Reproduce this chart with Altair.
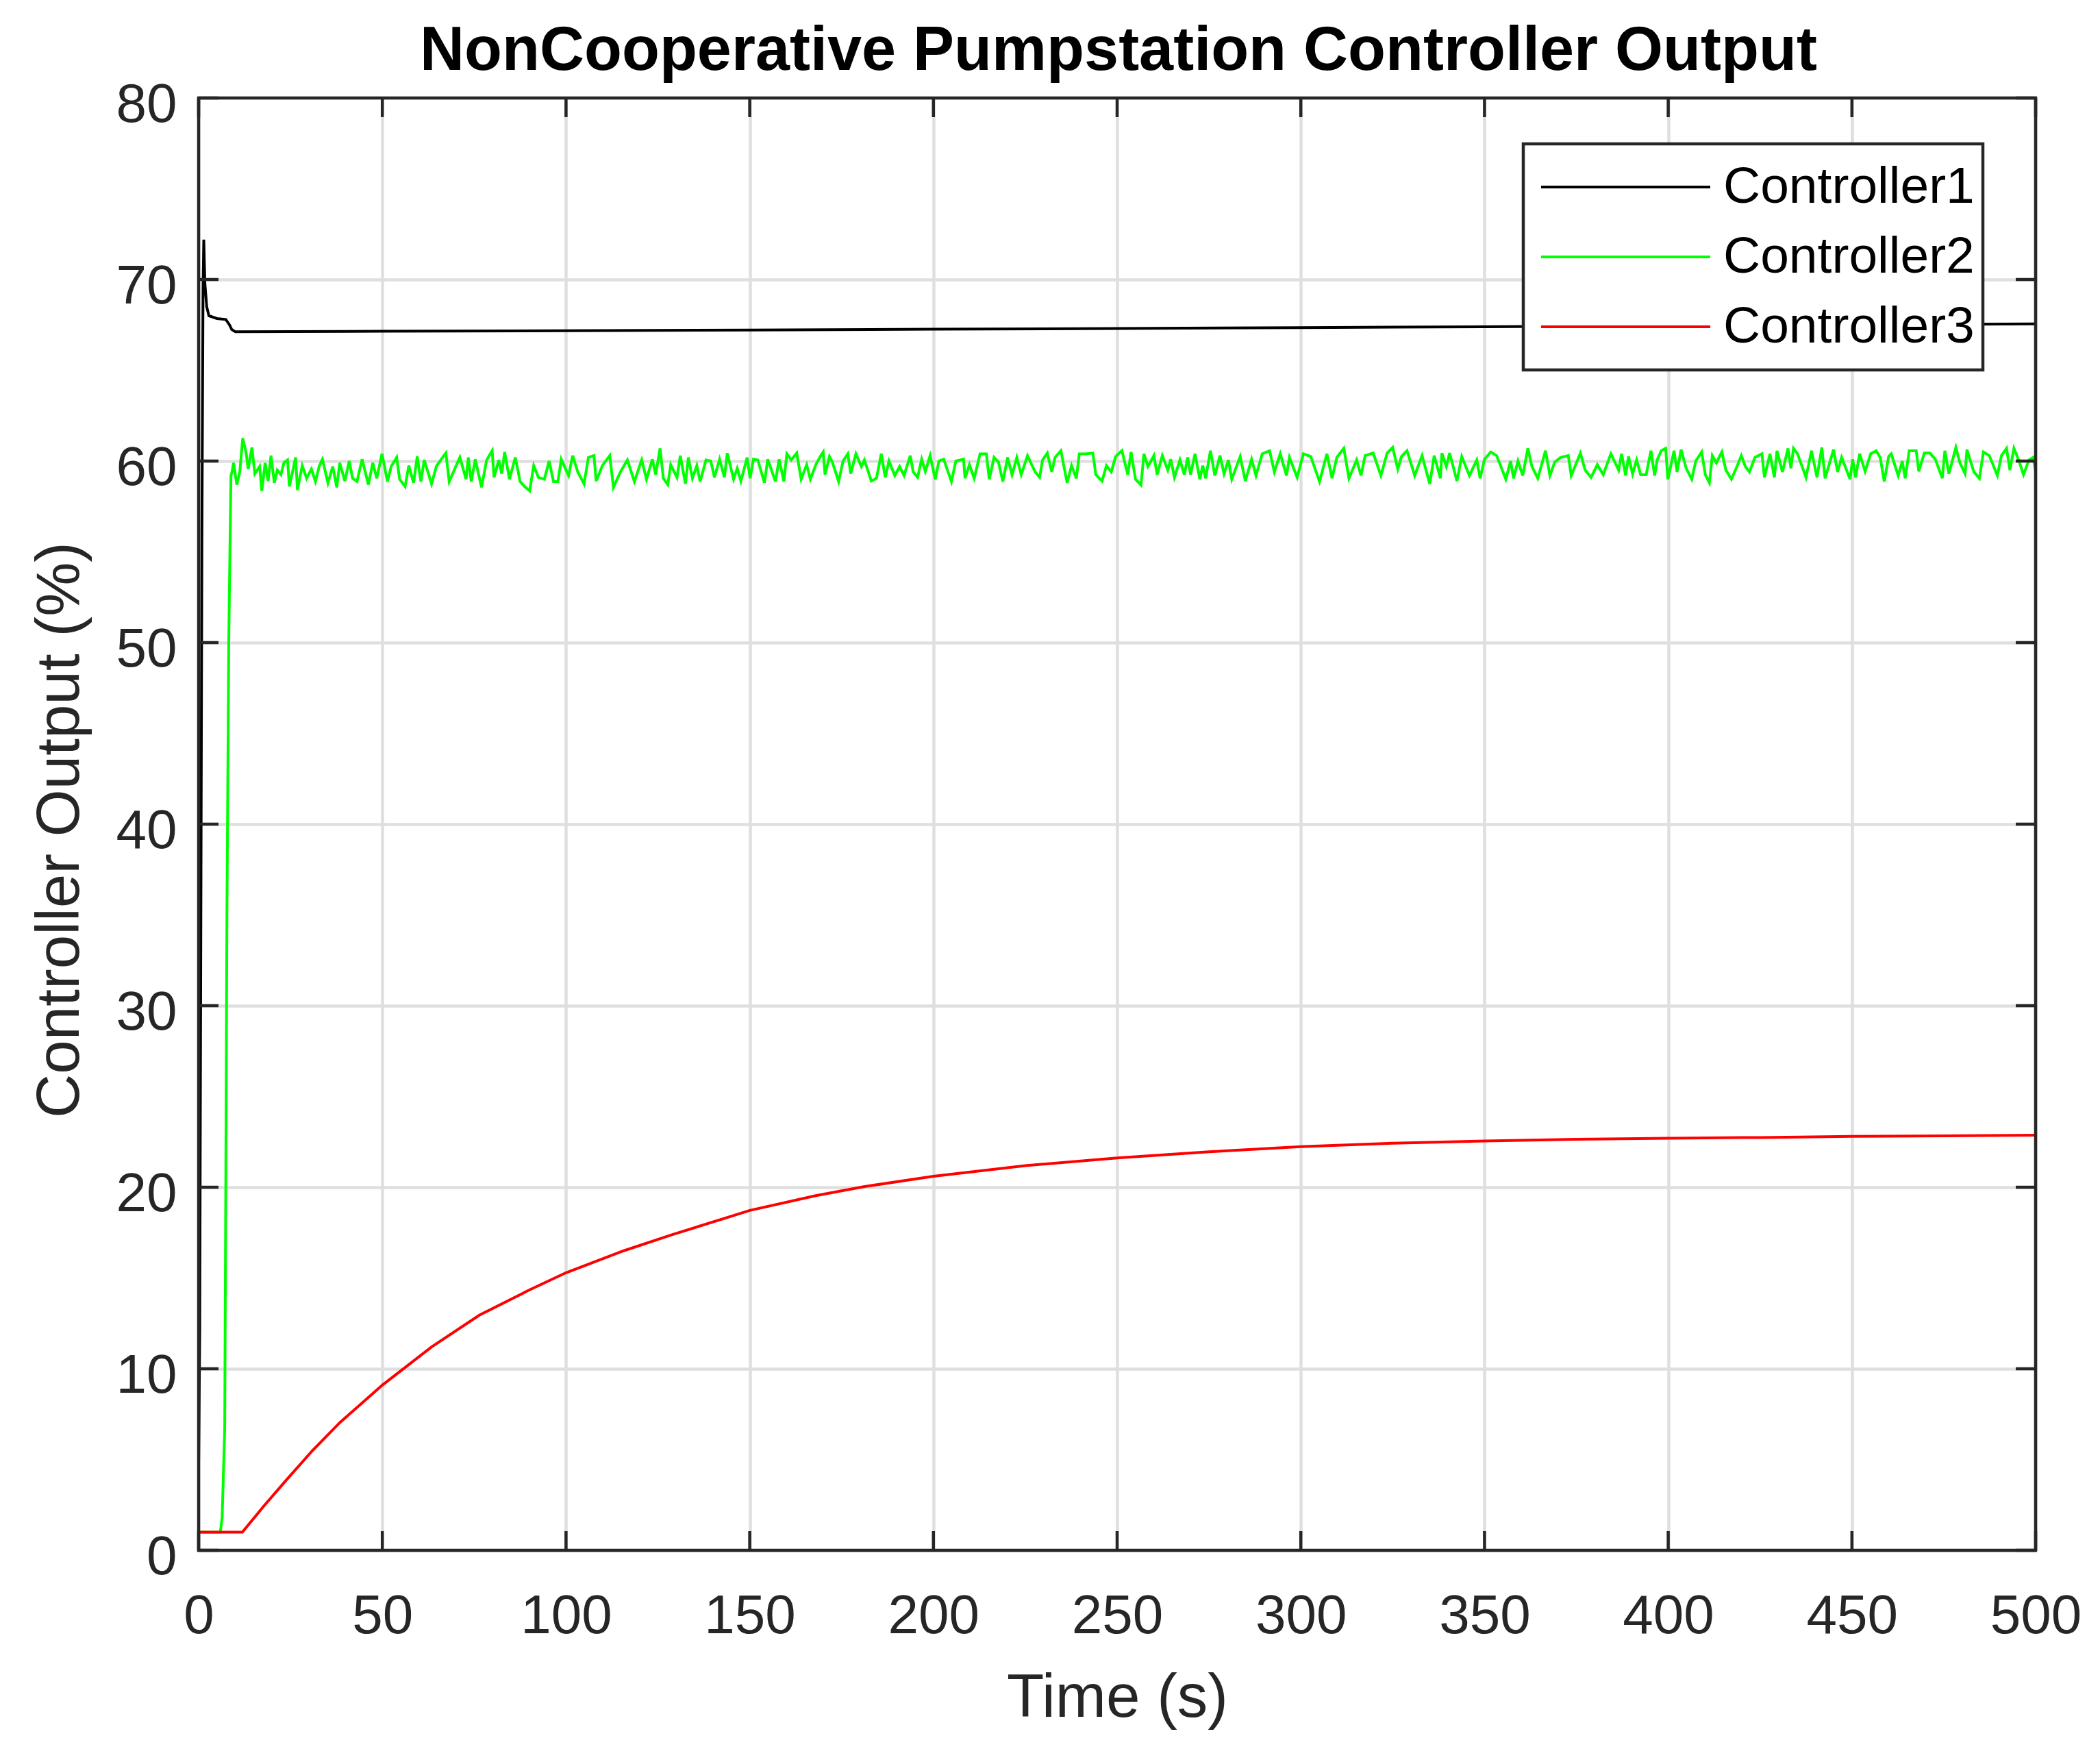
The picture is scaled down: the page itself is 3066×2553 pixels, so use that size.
import altair as alt
import pandas as pd

# ---------------- data ----------------
chart_title = "NonCooperative Pumpstation Controller Output"
series_names = ["Controller1", "Controller2", "Controller3"]
series_colors = ["#000000", "#00ff00", "#ff0000"]
x_ticks = [0, 50, 100, 150, 200, 250, 300, 350, 400, 450, 500]
y_ticks = [0, 10, 20, 30, 40, 50, 60, 70, 80]

# (time s, output %)
controller1 = [
    (0, 4.75), (0.3, 12.1), (0.6, 34.2), (0.9, 56.2), (1.2, 69.5), (1.4, 72.2),
    (1.7, 69.8), (2.2, 68.5), (2.8, 68.0), (5.0, 67.85), (7.4, 67.8), (8.4, 67.5),
    (9.0, 67.25), (10, 67.12), (50, 67.15), (100, 67.18), (150, 67.22), (200, 67.26),
    (250, 67.3), (300, 67.35), (350, 67.4), (400, 67.45), (450, 67.5), (500, 67.56),
]

controller2 = [
    (0, 1.0), (5.9, 1.0), (6.4, 1.8), (7.1, 6.7), (7.4, 20.4), (7.7, 35.0), (8.2, 50.0),
    (8.5, 54.8), (8.8, 59.2), (9.1, 59.4), (9.5, 59.9), (10.4, 58.7), (11.2, 59.4),
    (12.0, 61.26), (12.9, 60.5), (13.5, 59.56), (14.5, 60.75), (15.3, 59.3), (16.6, 59.7),
    (17.2, 58.36), (18.1, 59.9), (18.9, 58.9), (19.7, 60.3), (20.6, 58.8), (21.4, 59.5),
    (22.4, 59.25), (23.2, 59.9), (24.2, 60.06), (24.7, 58.6), (26.4, 60.2), (26.9, 58.4),
    (28.2, 59.75), (29.4, 59.05), (30.7, 59.56), (31.8, 58.87), (32.8, 59.7), (33.7, 60.1),
    (35.2, 58.8), (36.5, 59.7), (37.6, 58.55), (38.4, 59.9), (39.8, 58.9), (41.0, 60.0),
    (41.9, 59.05), (43.1, 58.87), (44.5, 60.1), (46.2, 58.7), (47.4, 59.9), (48.5, 59.05),
    (49.9, 60.4), (51.4, 58.87), (52.4, 59.7), (53.9, 60.2), (54.7, 59.0), (56.2, 58.6),
    (57.2, 59.75), (58.5, 58.8), (59.5, 60.25), (60.5, 58.87), (61.4, 60.06), (63.4, 58.74),
    (64.7, 59.7), (65.9, 60.06), (67.3, 60.44), (68.2, 58.87), (69.7, 59.56), (71.1, 60.2),
    (72.8, 59.0), (73.4, 60.2), (74.2, 58.87), (75.3, 60.1), (77.0, 58.55), (78.4, 60.06),
    (79.9, 60.57), (80.4, 59.1), (81.7, 60.06), (82.5, 59.3), (83.3, 60.5), (84.6, 59.0),
    (86.2, 60.2), (87.5, 58.87), (88.7, 58.6), (90.1, 58.36), (91.2, 59.75), (92.5, 59.1),
    (94.1, 59.0), (95.4, 60.0), (96.6, 58.87), (97.8, 58.87), (98.7, 60.1), (100.7, 59.2),
    (101.8, 60.3), (103.2, 59.4), (104.9, 58.74), (106.1, 60.2), (107.6, 60.3), (108.2, 58.9),
    (109.9, 59.75), (111.9, 60.3), (112.9, 58.55), (114.8, 59.4), (116.7, 60.06), (118.6, 58.87),
    (120.6, 60.06), (121.9, 59.0), (123.5, 60.1), (124.4, 59.25), (125.6, 60.7), (126.5, 59.05),
    (127.7, 58.7), (128.5, 59.8), (130.2, 59.1), (131.1, 60.3), (132.5, 58.74), (133.3, 60.2),
    (134.4, 59.05), (135.6, 59.75), (136.5, 58.87), (138.1, 60.06), (139.4, 60.0), (140.4, 59.1),
    (141.8, 60.1), (143.1, 59.1), (143.9, 60.44), (145.6, 59.0), (146.6, 59.6), (147.6, 58.9),
    (149.3, 60.2), (150.1, 59.05), (151.0, 60.1), (152.2, 60.06), (154.0, 58.8), (154.9, 60.1),
    (157.0, 58.87), (158.0, 60.1), (159.3, 58.87), (160.1, 60.4), (161.3, 60.06), (162.8, 60.44),
    (164.0, 59.0), (165.5, 59.8), (166.5, 59.0), (168.0, 59.8), (169.2, 60.25), (170.0, 60.5),
    (170.5, 59.25), (171.7, 60.25), (172.5, 59.94), (174.2, 58.87), (175.4, 60.0), (176.7, 60.4),
    (177.5, 59.3), (178.9, 60.4), (180.4, 59.7), (181.2, 60.06), (183.1, 58.9), (184.5, 59.05),
    (185.8, 60.4), (186.9, 59.1), (187.9, 60.0), (189.5, 59.2), (190.8, 59.7), (192.0, 59.2),
    (193.7, 60.3), (194.5, 59.4), (195.7, 59.1), (196.8, 60.1), (197.8, 59.43), (199.1, 60.3),
    (200.5, 59.0), (201.5, 60.0), (202.8, 60.1), (204.9, 58.87), (206.1, 60.0), (208.2, 60.1),
    (208.6, 59.05), (209.8, 59.8), (211.1, 59.05), (212.7, 60.4), (214.4, 60.4), (215.2, 59.0),
    (216.5, 60.2), (217.7, 59.94), (218.9, 58.87), (220.2, 60.2), (221.4, 59.25), (222.7, 60.2),
    (223.9, 59.25), (225.6, 60.3), (227.7, 59.4), (228.9, 59.1), (229.7, 60.06), (231.0, 60.44),
    (232.2, 59.4), (233.1, 60.2), (234.7, 60.57), (236.4, 58.8), (237.6, 59.75), (238.9, 59.05),
    (239.7, 60.4), (241.3, 60.4), (243.4, 60.44), (244.2, 59.25), (245.9, 58.9), (247.1, 59.75),
    (248.4, 59.4), (249.6, 60.25), (251.3, 60.57), (252.9, 59.25), (253.8, 60.5), (255.0, 59.0),
    (256.5, 58.68), (257.3, 60.4), (258.4, 59.7), (260.0, 60.3), (260.9, 59.25), (262.3, 60.3),
    (263.8, 59.5), (264.6, 60.1), (265.6, 59.1), (267.1, 60.06), (268.3, 59.25), (269.2, 60.2),
    (270.0, 59.25), (271.2, 60.4), (272.5, 59.0), (273.3, 59.75), (274.1, 59.05), (275.4, 60.57),
    (276.6, 59.2), (278.0, 60.3), (279.1, 59.3), (280.3, 60.06), (281.2, 59.0), (283.5, 60.25),
    (284.9, 58.9), (286.6, 60.1), (287.8, 59.2), (289.5, 60.4), (291.5, 60.57), (292.8, 59.4),
    (294.4, 60.4), (296.1, 59.2), (296.9, 60.2), (299.0, 59.1), (300.7, 60.4), (302.7, 60.25),
    (305.1, 58.87), (307.1, 60.4), (308.5, 59.05), (309.8, 60.2), (311.7, 60.7), (313.1, 59.05),
    (315.2, 60.06), (316.4, 59.2), (317.5, 60.3), (319.7, 60.44), (321.8, 59.2), (323.5, 60.44),
    (325.0, 60.75), (326.4, 59.56), (327.4, 60.25), (328.9, 60.57), (331.0, 59.2), (333.0, 60.3),
    (335.1, 58.74), (336.3, 60.3), (338.0, 59.05), (338.4, 60.44), (339.6, 59.7), (340.5, 60.44),
    (342.5, 58.9), (343.8, 60.25), (345.9, 59.2), (347.9, 60.06), (348.8, 59.05), (350.0, 60.1),
    (351.7, 60.5), (353.3, 60.3), (355.8, 59.0), (357.1, 60.0), (357.9, 59.05), (359.1, 60.0),
    (360.4, 59.2), (361.8, 60.7), (362.9, 59.7), (364.5, 59.05), (366.6, 60.57), (367.8, 59.2),
    (369.1, 59.94), (370.7, 60.2), (372.8, 60.3), (373.6, 59.2), (376.1, 60.44), (377.4, 59.5),
    (379.0, 59.1), (380.7, 59.8), (382.3, 59.25), (384.4, 60.4), (386.5, 59.5), (387.3, 60.4),
    (388.4, 59.2), (389.2, 60.25), (390.3, 59.3), (391.4, 60.06), (392.5, 59.25), (394.0, 59.25),
    (395.3, 60.57), (396.3, 59.2), (397.0, 60.06), (398.1, 60.57), (399.3, 60.7), (399.9, 59.0),
    (401.6, 60.57), (402.4, 59.4), (403.5, 60.63), (404.9, 59.6), (406.4, 59.0), (407.5, 60.0),
    (409.1, 60.5), (410.1, 59.25), (411.2, 58.8), (412.0, 60.3), (413.1, 59.9), (414.6, 60.5),
    (415.7, 59.5), (417.2, 59.0), (418.7, 59.7), (419.9, 60.3), (421.0, 59.7), (422.1, 59.4),
    (423.6, 60.2), (425.5, 60.4), (426.2, 59.1), (427.7, 60.4), (428.9, 59.1), (429.6, 60.57),
    (431.1, 59.4), (432.6, 60.7), (433.4, 59.6), (434.1, 60.7), (435.2, 60.4), (437.5, 59.1),
    (439.0, 60.57), (440.5, 59.1), (441.8, 60.75), (442.7, 59.05), (445.0, 60.63), (446.1, 59.4),
    (447.2, 60.2), (449.5, 59.0), (450.2, 60.1), (451.0, 59.1), (452.1, 60.4), (453.6, 59.43),
    (455.1, 60.4), (456.6, 60.57), (457.7, 60.2), (458.8, 58.87), (460.0, 60.25), (460.7, 60.4),
    (462.6, 59.2), (463.7, 60.0), (464.5, 59.05), (465.6, 60.57), (467.5, 60.57), (468.2, 59.43),
    (469.7, 60.44), (471.2, 60.44), (472.7, 60.1), (474.6, 59.05), (475.3, 60.57), (476.4, 59.3),
    (478.3, 60.75), (479.4, 59.9), (480.8, 59.3), (481.3, 60.63), (483.2, 59.4), (484.7, 59.05),
    (485.8, 60.5), (487.4, 60.3), (489.6, 59.2), (490.7, 60.3), (492.1, 60.7), (493.0, 59.5),
    (494.1, 60.7), (495.6, 59.94), (496.7, 59.25), (498.2, 60.06), (499.3, 60.2), (500.0, 59.43),
]

controller3 = [
    (0, 1.0), (11.9, 1.0), (18, 2.5), (24, 3.9), (31, 5.5), (38.5, 7.05), (50, 9.1),
    (63.4, 11.2), (76.4, 12.95), (89.6, 14.3), (100, 15.29), (115.7, 16.5), (128.8, 17.38),
    (150, 18.72), (168, 19.54), (181, 20.03), (200, 20.6), (225, 21.19), (250, 21.61),
    (275, 21.95), (300, 22.24), (325, 22.42), (350, 22.55), (375, 22.64), (400, 22.7),
    (425, 22.74), (450, 22.8), (475, 22.83), (500, 22.87),
]

# ---------------- tables ----------------
rows = []
for name, pts in zip(series_names, [controller1, controller2, controller3]):
    for i, (t, v) in enumerate(pts):
        rows.append({"time": t, "value": v, "series": name, "order": i})
df = pd.DataFrame(rows)

xtick_df = pd.DataFrame({"time": x_ticks})
ytick_df = pd.DataFrame({"value": y_ticks})
title_df = pd.DataFrame({"title": [chart_title]})

# ---------------- styling ----------------
W, H = 2682, 2120
FONT = "Liberation Sans"
AX = "#262626"
GRID = "#dfdfdf"
LW = 4.5

x_scale = alt.Scale(domain=[0, 500], nice=False, zero=False)
y_scale = alt.Scale(domain=[0, 80], nice=False, zero=False)

x_axis = alt.Axis(
    values=x_ticks, title="Time (s)", format="d",
    titleFont=FONT, titleFontSize=89, titleFontWeight="normal", titleColor=AX,
    titleX=W / 2, titleY=242, titleBaseline="alphabetic", titleAlign="center",
    labelFont=FONT, labelFontSize=80, labelColor=AX, labelPadding=120,
    labelBaseline="alphabetic", labelFlush=False, labelOverlap=False, labelBound=False,
    ticks=False, tickSize=0, domain=False,
    grid=True, gridColor=GRID, gridWidth=LW, gridOpacity=1,
)
y_axis = alt.Axis(
    values=y_ticks, title="Controller Output (%)", format="d",
    titleFont=FONT, titleFontSize=89, titleFontWeight="normal", titleColor=AX,
    titleX=-176, titleY=1068, titleAngle=270, titleBaseline="alphabetic", titleAlign="center",
    labelFont=FONT, labelFontSize=80, labelColor=AX, labelPadding=32,
    labelBaseline="alphabetic", labelOffset=34, labelFlush=False, labelOverlap=False,
    labelBound=False,
    ticks=False, tickSize=0, domain=False,
    grid=True, gridColor=GRID, gridWidth=LW, gridOpacity=1,
)

legend = alt.Legend(
    title=None, orient="none", legendX=1934, legendY=67,
    symbolType="stroke", symbolSize=61009, symbolStrokeWidth=4, symbolOffset=12,
    clipHeight=102, rowPadding=0, padding=12,
    labelFont=FONT, labelFontSize=75, labelColor="#000000", labelOffset=17, labelLimit=2000,
    strokeColor=AX, fillColor="#ffffff",
)

lines = alt.Chart(df).mark_line(strokeWidth=4, clip=True, interpolate="linear").encode(
    x=alt.X("time:Q", scale=x_scale, axis=x_axis),
    y=alt.Y("value:Q", scale=y_scale, axis=y_axis),
    color=alt.Color("series:N", scale=alt.Scale(domain=series_names, range=series_colors),
                    legend=legend, sort=series_names),
    order=alt.Order("order:Q"),
)

bottom_ticks = alt.Chart(xtick_df).mark_rule(color=AX, strokeWidth=LW).encode(
    x=alt.X("time:Q", scale=x_scale, axis=x_axis), y=alt.value(H), y2=alt.value(H - 28))
top_ticks = alt.Chart(xtick_df).mark_rule(color=AX, strokeWidth=LW).encode(
    x=alt.X("time:Q", scale=x_scale, axis=x_axis), y=alt.value(0), y2=alt.value(28))
left_ticks = alt.Chart(ytick_df).mark_rule(color=AX, strokeWidth=LW).encode(
    y=alt.Y("value:Q", scale=y_scale, axis=y_axis), x=alt.value(0), x2=alt.value(29))
right_ticks = alt.Chart(ytick_df).mark_rule(color=AX, strokeWidth=LW).encode(
    y=alt.Y("value:Q", scale=y_scale, axis=y_axis), x=alt.value(W), x2=alt.value(W - 29))

frame = alt.Chart(pd.DataFrame({"frame": [0]})).mark_rect(
    filled=False, stroke=AX, strokeWidth=LW).encode(
    x=alt.datum(0), x2=alt.datum(500), y=alt.datum(0), y2=alt.datum(80))

title_text = alt.Chart(title_df).mark_text(
    font=FONT, fontSize=90, fontWeight="bold", color="#000000",
    align="center", baseline="alphabetic").encode(
    text="title:N", x=alt.value(W / 2 + 2), y=alt.value(-41))

chart = alt.layer(lines, bottom_ticks, top_ticks, left_ticks, right_ticks, frame,
                  title_text).properties(
    width=W, height=H,
    autosize=alt.AutoSizeParams(type="none"),
    padding={"left": 282, "top": 135, "right": 86, "bottom": 282},
    background="#ffffff",
).configure_view(stroke="transparent").configure_legend(strokeWidth=LW)

chart.save("out.html", embed_options={"renderer": "svg", "actions": False})
